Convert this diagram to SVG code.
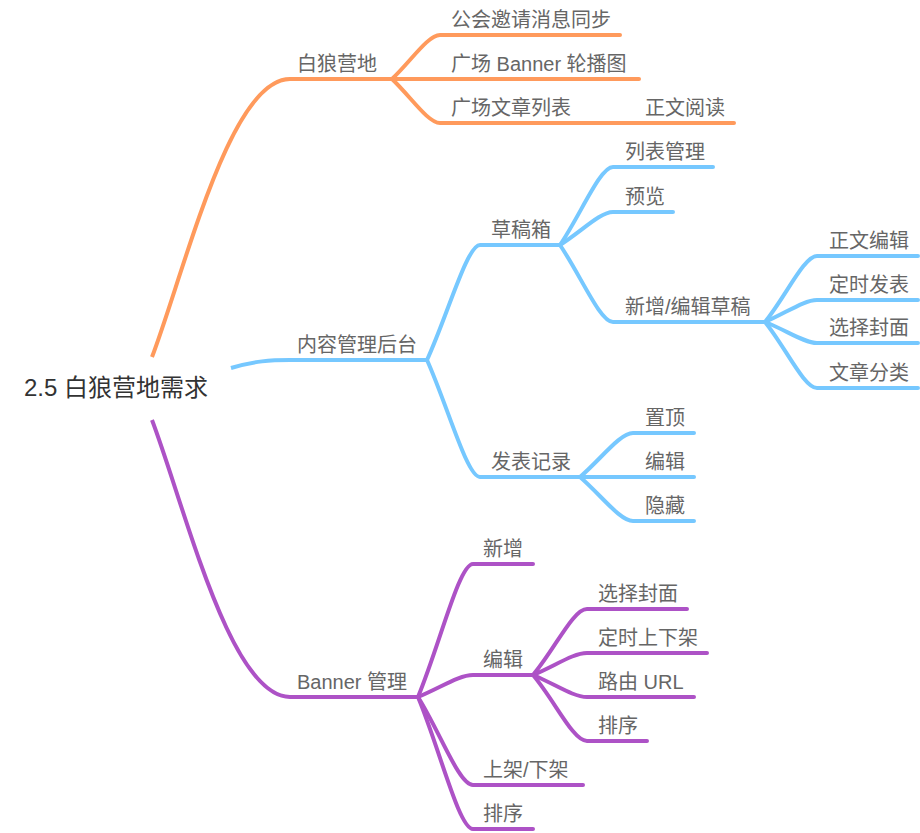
<svg xmlns="http://www.w3.org/2000/svg" width="920" height="833" viewBox="0 0 920 833">
  <style>
    .ln { fill: none; stroke-width: 4; stroke-linecap: round; stroke-linejoin: round; }
    .root-ln { stroke-linecap: butt; }
    .o { stroke: #FF9A5C; }
    .b { stroke: #76C8FF; }
    .p { stroke: #AD52C6; }
    text { font-family: "Liberation Sans", "Noto Sans CJK SC", sans-serif; font-size: 20px; fill: #666666; }
    .root-t { font-size: 24px; fill: #333333; }
  </style>
  <rect width="920" height="833" fill="#ffffff"/>

  <g id="connectors">
    <!-- orange branch -->
    <path class="ln o root-ln" d="M152,357 C185,270 230,79 290,79 H392"/>
    <path class="ln o" d="M392,79 C411,61 428,35 440,35 H620"/>
    <path class="ln o" d="M392,79 H639"/>
    <path class="ln o" d="M392,79 C411,97 428,123 440,123 H734"/>

    <!-- blue branch -->
    <path class="ln b root-ln" d="M231,368 C255,361 270,360 290,360 H427"/>
    <path class="ln b" d="M427,360 C448,314 467,245 480,245 H560"/>
    <path class="ln b" d="M427,360 C448,407 467,477 480,477 H580"/>
    <path class="ln b" d="M560,245 C581,214 600,167 613,167 H713"/>
    <path class="ln b" d="M560,245 C581,232 600,212 613,212 H673"/>
    <path class="ln b" d="M560,245 C581,276 600,322 613,322 H765"/>
    <path class="ln b" d="M765,322 C786,296 804,256 817,256 H918"/>
    <path class="ln b" d="M765,322 C786,313 804,300 817,300 H918"/>
    <path class="ln b" d="M765,322 C786,330 804,343 817,343 H918"/>
    <path class="ln b" d="M765,322 C786,348 804,388 817,388 H918"/>
    <path class="ln b" d="M580,477 C601,459 620,433 633,433 H694"/>
    <path class="ln b" d="M580,477 H694"/>
    <path class="ln b" d="M580,477 C601,495 620,521 633,521 H694"/>

    <!-- purple branch -->
    <path class="ln p root-ln" d="M152,420 C185,507 230,697 290,697 H418"/>
    <path class="ln p" d="M418,697 C440,644 459,564 473,564 H533"/>
    <path class="ln p" d="M418,697 C440,688 459,675 473,675 H533"/>
    <path class="ln p" d="M418,697 C440,732 459,785 473,785 H583"/>
    <path class="ln p" d="M418,697 C440,750 459,829 473,829 H533"/>
    <path class="ln p" d="M533,675 C555,649 573,609 587,609 H687"/>
    <path class="ln p" d="M533,675 C555,666 573,653 587,653 H707"/>
    <path class="ln p" d="M533,675 C555,684 573,697 587,697 H694"/>
    <path class="ln p" d="M533,675 C555,701 573,741 587,741 H647"/>
  </g>

  <g id="root"><text class="root-t" x="24" y="396">2.5 白狼营地需求</text></g>

  <g id="n-camp"><text x="297" y="70.5">白狼营地</text></g>
  <g id="n-guild"><text x="451" y="26.5">公会邀请消息同步</text></g>
  <g id="n-banner-carousel"><text x="451" y="70.5">广场 Banner 轮播图</text></g>
  <g id="n-article-list"><text x="451" y="114.5">广场文章列表</text></g>
  <g id="n-read"><text x="645" y="114.5">正文阅读</text></g>

  <g id="n-cms"><text x="297" y="351.5">内容管理后台</text></g>
  <g id="n-drafts"><text x="491" y="236.5">草稿箱</text></g>
  <g id="n-list-mgmt"><text x="625" y="158.5">列表管理</text></g>
  <g id="n-preview"><text x="625" y="203.5">预览</text></g>
  <g id="n-edit-draft"><text x="625" y="313.5">新增/编辑草稿</text></g>
  <g id="n-body-edit"><text x="829" y="247.5">正文编辑</text></g>
  <g id="n-schedule"><text x="829" y="291.5">定时发表</text></g>
  <g id="n-cover"><text x="829" y="334.5">选择封面</text></g>
  <g id="n-category"><text x="829" y="379.5">文章分类</text></g>
  <g id="n-published"><text x="491" y="468.5">发表记录</text></g>
  <g id="n-pin"><text x="645" y="424.5">置顶</text></g>
  <g id="n-pub-edit"><text x="645" y="468.5">编辑</text></g>
  <g id="n-hide"><text x="645" y="512.5">隐藏</text></g>

  <g id="n-banner-mgmt"><text x="297" y="688.5">Banner 管理</text></g>
  <g id="n-add"><text x="483" y="555.5">新增</text></g>
  <g id="n-b-edit"><text x="483" y="666.5">编辑</text></g>
  <g id="n-b-cover"><text x="598" y="600.5">选择封面</text></g>
  <g id="n-b-schedule"><text x="598" y="644.5">定时上下架</text></g>
  <g id="n-b-route"><text x="598" y="688.5">路由 URL</text></g>
  <g id="n-b-order"><text x="598" y="732.5">排序</text></g>
  <g id="n-onoff"><text x="483" y="776.5">上架/下架</text></g>
  <g id="n-order"><text x="483" y="820.5">排序</text></g>
</svg>
